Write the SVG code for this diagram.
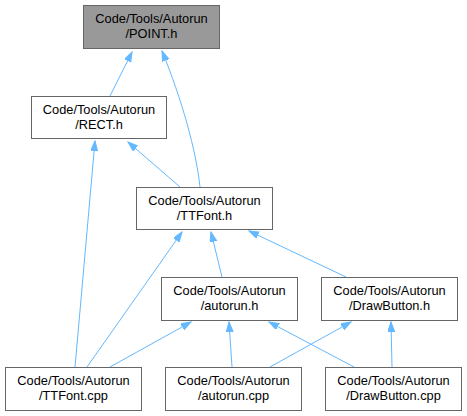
<svg xmlns="http://www.w3.org/2000/svg" width="467" height="416" viewBox="0 0 467 416">
<style>
.n rect{fill:#ffffff;stroke:#666666;stroke-width:1}
.n.cur rect{fill:#999999}
.n text{font-family:"Liberation Sans",Arial,sans-serif;font-size:12.8px;fill:#000000;text-anchor:middle}
.e path{fill:none;stroke:#63b8ff;stroke-width:1;marker-end:url(#ah)}
</style>
<defs>
<marker id="ah" markerUnits="userSpaceOnUse" markerWidth="11" markerHeight="8" refX="10" refY="3.5" orient="auto" viewBox="0 0 11 8">
<path d="M0,0 L10,3.5 L0,7 z" fill="#63b8ff" stroke="#63b8ff" stroke-width="1"/>
</marker>
</defs>
<rect width="467" height="416" fill="#ffffff"/>
<g id="edges" class="e">
<path d="M110,96 L132,52"/>
<path d="M200,187 C196,150 182,100 162,51"/>
<path d="M180,187 L128,142"/>
<path d="M75,367 L95,141"/>
<path d="M87,367 L182,232"/>
<path d="M222,277 L211,232"/>
<path d="M346,277 L249,231"/>
<path d="M110,367 L191,322"/>
<path d="M232,367 L229,322"/>
<path d="M354,367 L269,322"/>
<path d="M270,367 L351,322"/>
<path d="M392,367 L391,322"/>
</g>
<g id="node-point" class="n cur">
<rect x="83.5" y="5.5" width="136" height="43"/>
<text x="151.5" y="23">Code/Tools/Autorun</text>
<text x="151.5" y="38">/POINT.h</text>
</g>
<g id="node-rect" class="n">
<rect x="31.5" y="96.5" width="135" height="42"/>
<text x="99" y="114">Code/Tools/Autorun</text>
<text x="99" y="129">/RECT.h</text>
</g>
<g id="node-ttfont-h" class="n">
<rect x="136.5" y="187.5" width="136" height="42"/>
<text x="204.5" y="205">Code/Tools/Autorun</text>
<text x="204.5" y="220">/TTFont.h</text>
</g>
<g id="node-autorun-h" class="n">
<rect x="161.5" y="277.5" width="136" height="43"/>
<text x="229.5" y="295">Code/Tools/Autorun</text>
<text x="229.5" y="310">/autorun.h</text>
</g>
<g id="node-drawbutton-h" class="n">
<rect x="321.5" y="277.5" width="136" height="43"/>
<text x="389.5" y="295">Code/Tools/Autorun</text>
<text x="389.5" y="310">/DrawButton.h</text>
</g>
<g id="node-ttfont-cpp" class="n">
<rect x="5.5" y="367.5" width="136" height="43"/>
<text x="73.5" y="385">Code/Tools/Autorun</text>
<text x="73.5" y="400">/TTFont.cpp</text>
</g>
<g id="node-autorun-cpp" class="n">
<rect x="165.5" y="367.5" width="136" height="43"/>
<text x="233.5" y="385">Code/Tools/Autorun</text>
<text x="233.5" y="400">/autorun.cpp</text>
</g>
<g id="node-drawbutton-cpp" class="n">
<rect x="325.5" y="367.5" width="136" height="43"/>
<text x="393.5" y="385">Code/Tools/Autorun</text>
<text x="393.5" y="400">/DrawButton.cpp</text>
</g>
</svg>
